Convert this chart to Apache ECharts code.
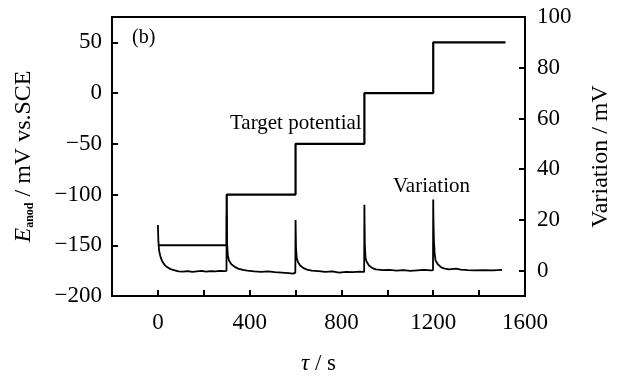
<!DOCTYPE html>
<html>
<head>
<meta charset="utf-8">
<script src="https://cdn.jsdelivr.net/npm/echarts@6/dist/echarts.min.js"></script>
<style>
  html, body { margin: 0; padding: 0; background: #fff; }
  #chart { width: 621px; height: 380px; }
</style>
</head>
<body>
<div id="chart"></div>
<script>
// target anode potential steps (mV vs SCE, left axis)
const targetT = [0, 300, 600, 900, 1200, 1515];
const targetE = [-150, -100, -50, 0, 50, 50];

const varT = [
  0, 2, 5, 10, 15, 20, 30, 40, 55, 70, 90, 110, 130, 150, 170, 190, 210, 230, 250, 270, 290, 299,
  300, 302, 305, 310, 320, 335, 350, 370, 390, 420, 450, 480, 510, 540, 570, 590, 599,
  600, 602, 605, 610, 620, 635, 650, 670, 700, 730, 760, 790, 820, 850, 880, 899,
  900, 902, 905, 910, 920, 935, 950, 980, 1010, 1040, 1070, 1100, 1130, 1160, 1190, 1199,
  1200, 1201, 1203, 1206, 1210, 1220, 1235, 1250, 1270, 1300, 1320, 1350, 1380, 1420, 1460, 1500
];
const varV = [
  18, 12, 8, 6, 4.5, 3.5, 2.2, 1.4, 0.6, 0.2, -0.3, -0.4, -0.2, -0.5, -0.3, -0.1, -0.4, -0.2, -0.3, -0.1, -0.2, -0.1,
  22, 10, 6, 4, 2.5, 1.5, 0.8, 0.3, 0, -0.3, -0.5, -0.3, -0.6, -0.8, -1, -1.2, -0.8,
  20, 9, 5, 3.5, 2, 1, 0.4, 0, -0.2, -0.5, -0.3, -0.8, -0.5, -0.6, -0.4, -0.5,
  26, 10, 5, 3.5, 2, 1, 0.5, 0.2, 0.3, 0, 0.2, -0.1, 0.1, 0.3, 0.1, 0.2,
  28, 20, 12, 7, 4, 2.5, 1.3, 0.8, 0.5, 0.8, 0.4, 0.2, 0.1, 0.2, 0.1, 0.3
];

const xTicks = [0, 200, 400, 600, 800, 1000, 1200, 1400, 1600];
const xLabels = [0, 400, 800, 1200, 1600];
const leftTicks = [-200, -150, -100, -50, 0, 50];
const rightTicks = [0, 20, 40, 60, 80, 100];

const FONT = '"Liberation Serif", "DejaVu Serif", serif';

const chart = echarts.init(document.getElementById('chart'));

const axisCommon = {
  axisLine: { show: true, onZero: false, lineStyle: { color: '#000', width: 2 } },
  axisTick: { show: true, inside: true, length: 6, lineStyle: { color: '#000', width: 2 } },
  splitLine: { show: false },
  axisLabel: { color: '#000', fontFamily: FONT, fontSize: 23 },
};

const option = {
  animation: false,
  grid: { left: 112, right: 71, top: 17, bottom: 78, show: true, borderColor: '#000', borderWidth: 2 },
  xAxis: {
    type: 'value',
    min: -200,
    max: 1600,
    ...axisCommon,
    axisTick: { ...axisCommon.axisTick, customValues: xTicks },
    axisLabel: { ...axisCommon.axisLabel, margin: 15, customValues: xLabels, formatter: (v) => String(v) },
    name: '{t|τ} / s',
    nameLocation: 'middle',
    nameGap: 56,
    nameTextStyle: {
      color: '#000', fontFamily: FONT, fontSize: 23,
      rich: { t: { fontFamily: FONT, fontSize: 23, fontStyle: 'italic', color: '#000' } },
    },
  },
  yAxis: [
    {
      type: 'value',
      min: -200,
      max: 75,
      ...axisCommon,
      axisTick: { ...axisCommon.axisTick, customValues: leftTicks },
      axisLabel: {
        ...axisCommon.axisLabel,
        margin: 10,
        padding: [5, 0, 0, 0],
        customValues: leftTicks,
        formatter: (v) => String(v).replace('-', '\u2212'),
      },
      name: '{e|E}{s|anod} / mV vs.SCE',
      nameLocation: 'middle',
      nameGap: 76,
      nameTextStyle: {
        color: '#000', fontFamily: FONT, fontSize: 24,
        rich: {
          e: { fontFamily: FONT, fontSize: 24, fontStyle: 'italic', color: '#000' },
          s: { fontFamily: FONT, fontSize: 12, fontWeight: 'bold', color: '#000', verticalAlign: 'bottom', padding: [10, 0, 0, 0] },
        },
      },
    },
    {
      type: 'value',
      min: -10,
      max: 100,
      position: 'right',
      ...axisCommon,
      axisTick: { ...axisCommon.axisTick, customValues: rightTicks },
      axisLabel: { ...axisCommon.axisLabel, margin: 12, padding: [5, 0, 0, 0], customValues: rightTicks },
      name: 'Variation / mV',
      nameLocation: 'middle',
      nameGap: 64,
      nameTextStyle: { color: '#000', fontFamily: FONT, fontSize: 24 },
    },
  ],
  series: [
    {
      name: 'Target potential',
      type: 'line',
      yAxisIndex: 0,
      step: 'end',
      symbol: 'none',
      lineStyle: { color: '#000', width: 2.2 },
      data: targetT.map((t, i) => [t, targetE[i]]),
    },
    {
      name: 'Variation',
      type: 'line',
      yAxisIndex: 1,
      symbol: 'none',
      lineStyle: { color: '#000', width: 1.8 },
      data: varT.map((t, i) => [t, varV[i]]),
    },
  ],
  graphic: [
    { type: 'text', left: 132, top: 28, style: { text: '(b)', font: '20px ' + FONT, fill: '#000' } },
    { type: 'text', left: 230, top: 113, style: { text: 'Target potential', font: '21px ' + FONT, fill: '#000' } },
    { type: 'text', left: 393, top: 176, style: { text: 'Variation', font: '21px ' + FONT, fill: '#000' } },
  ],
};

chart.setOption(option);
</script>
</body>
</html>
